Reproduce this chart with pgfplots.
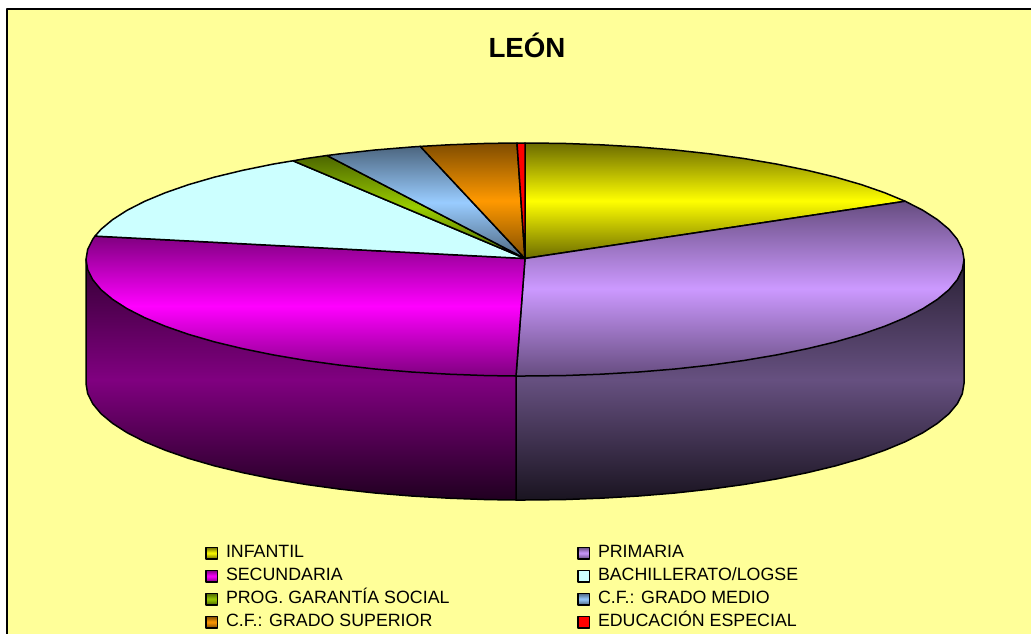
\documentclass[border=0pt]{standalone}
\usepackage{pgfplots}
\pgfplotsset{compat=1.18}
\usepackage{fontspec}
\setmainfont{Liberation Sans}
\definecolor{bgy}{HTML}{FFFF99}
\definecolor{primside}{HTML}{665080}
\definecolor{secside}{HTML}{800080}
\definecolor{primtop}{HTML}{CC99FF}
\definecolor{bachtop}{HTML}{CCFFFF}
\definecolor{progtop}{HTML}{99CC00}
\definecolor{meditop}{HTML}{99CCFF}
\definecolor{suptop}{HTML}{FF9900}
\definecolor{yeltop}{HTML}{FFFF00}
\definecolor{magtop}{HTML}{FF00FF}
\definecolor{redtop}{HTML}{FF0000}
\newcommand{\lgc}[1]{\makebox[343pt][l]{#1}}
\begin{document}
\begin{tikzpicture}[x=1pt,y=1pt]
\path[use as bounding box] (0,0) rectangle (1031,634);
\begin{axis}[
  at={(0,0)},anchor=south west,
  scale only axis,width=1031pt,height=634pt,
  xmin=0,xmax=1031,ymin=0,ymax=634,y dir=reverse,
  hide axis,
  title={LEÓN},
  title style={at={(axis cs:527,51)},anchor=center,inner sep=0pt,font=\fontsize{27.7}{30}\selectfont\bfseries},
  legend columns=2,
  legend cell align=left,
  legend style={at={(axis cs:205,544)},anchor=north west,draw=none,fill=none,inner sep=0pt,outer sep=0pt,
    row sep=5pt,column sep=8pt,
    font=\fontsize{17.8}{20}\selectfont,
    nodes={inner sep=0pt,outer sep=0pt,text height=13.5pt,text depth=4.5pt,anchor=base west}},
  legend image code/.code={\draw[#1,line width=1.5pt] (0.7pt,-1.3pt) rectangle (12.2pt,10.2pt);},
  every axis plot/.append style={line width=1.5pt,line join=round,draw=black,mark=none},
]
% panel
\addplot[forget plot,draw=none,fill=bgy] coordinates {(7,9)(1031,9)(1031,634)(7,634)} --cycle;
\addplot[forget plot,draw=black,line width=1.5pt] coordinates {(7,634)(7,9)(1031,9)};
% side walls
\addplot[forget plot,top color=primside!40!black,bottom color=primside!25!black,middle color=primside] coordinates {
(964,259.5)(964,383.5)(962.3,393.7)(957.3,403.7)(949,413.7)(937.5,423.3)(922.9,432.7)(905.2,441.75)(884.6,450.3)(861.3,458.4)(835.4,465.9)(807.2,472.7)(776.8,478.9)(744.5,484.4)(710.5,489.1)(675.1,493)(638.6,496)(601.2,498.2)(563.3,499.6)(525,500)(516,500)(516,376)} --cycle;
\addplot[forget plot,top color=secside!40!black,bottom color=secside!25!black,middle color=secside] coordinates {
(516,376)(516,500)(486.7,499.6)(448.8,498.2)(411.4,496)(374.9,493)(339.5,489.1)(305.5,484.4)(273.2,478.9)(242.8,472.7)(214.6,465.9)(188.7,458.4)(165.4,450.3)(144.8,441.75)(127.1,432.7)(112.5,423.3)(101,413.7)(92.7,403.7)(87.7,393.7)(86,383.5)(86,259.5)} --cycle;
% top faces
\addplot[top color=yeltop!42!black,bottom color=yeltop!42!black,middle color=yeltop] coordinates {
(525,258.5)(525,143)(563.3,143.4)(601.2,144.8)(638.6,147)(675.1,150)(710.5,153.9)(744.5,158.6)(776.8,164.1)(807.2,170.3)(835.4,177.1)(861.3,184.6)(884.6,192.7)(905.2,201.25)} --cycle;
\addplot[top color=primtop!50!black,bottom color=primtop!50!black,middle color=primtop] coordinates {
(525,258.5)(905.2,201.25)(922.9,210.3)(937.5,219.7)(949,229.3)(957.3,239.3)(962.3,249.3)(964,259.5)(962.3,269.7)(957.3,279.7)(949,289.7)(937.5,299.3)(922.9,308.7)(905.2,317.75)(884.6,326.3)(861.3,334.4)(835.4,341.9)(807.2,348.7)(776.8,354.9)(744.5,360.4)(710.5,365.1)(675.1,369)(638.6,372)(601.2,374.2)(563.3,375.6)(525,376)(516,376)} --cycle;
\addplot[top color=magtop!50!black,bottom color=magtop!50!black,middle color=magtop] coordinates {
(525,258.5)(516,376)(486.7,375.6)(448.8,374.2)(411.4,372)(374.9,369)(339.5,365.1)(305.5,360.4)(273.2,354.9)(242.8,348.7)(214.6,341.9)(188.7,334.4)(165.4,326.3)(144.8,317.75)(127.1,308.7)(112.5,299.3)(101,289.7)(92.7,279.7)(87.7,269.7)(86,259.5)(87.7,249.3)(92.7,239.3)(95,236.1)} --cycle;
\addplot[fill=bachtop] coordinates {
(525,258.5)(95,236.1)(101,229.3)(112.5,219.7)(127.1,210.3)(144.8,201.25)(165.4,192.7)(188.7,184.6)(214.6,177.1)(242.8,170.3)(273.2,164.1)(293,160.8)} --cycle;
\addplot[top color=progtop!50!black,bottom color=progtop!50!black,middle color=progtop] coordinates {
(525,258.5)(293,160.8)(305.5,158.6)(327,155.5)} --cycle;
\addplot[top color=meditop!50!black,bottom color=meditop!50!black,middle color=meditop] coordinates {
(525,258.5)(327,155.5)(339.5,153.9)(374.9,150)(411.4,147)(420.3,146.4)} --cycle;
\addplot[top color=suptop!50!black,bottom color=suptop!50!black,middle color=suptop] coordinates {
(525,258.5)(420.3,146.4)(448.8,144.8)(486.7,143.4)(517,143)} --cycle;
\addplot[fill=redtop] coordinates {(525,258.5)(517,143)(525,143)} --cycle;
\legend{\lgc{INFANTIL},{PRIMARIA},\lgc{SECUNDARIA},{BACHILLERATO/LOGSE},\lgc{PROG. GARANTÍA SOCIAL},{C.F.: GRADO MEDIO},\lgc{C.F.: GRADO SUPERIOR},{EDUCACIÓN ESPECIAL}}
\end{axis}
\end{tikzpicture}
\end{document}
